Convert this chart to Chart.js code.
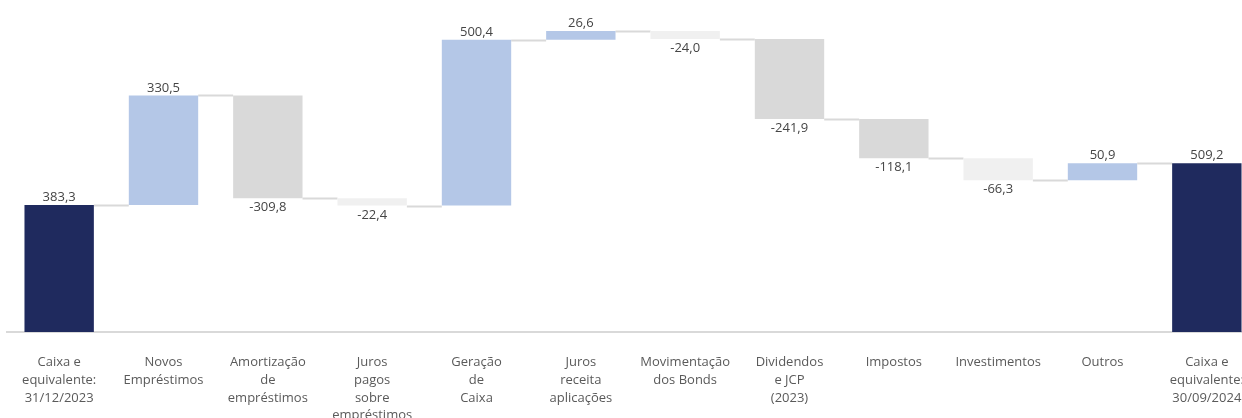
<!DOCTYPE html>
<html>
<head>
<meta charset="utf-8">
<script src="https://cdn.jsdelivr.net/npm/chart.js@4.4.1/dist/chart.umd.min.js"></script>
<style>
  html, body { margin: 0; padding: 0; background: #fff; overflow: hidden; }
  #wrap { width: 1260px; height: 440px; }
</style>
</head>
<body>
<div id="wrap"><canvas id="waterfall" width="1260" height="440"></canvas></div>
<script>
// Categories (multi-line tick labels)
const categories = [
  ["Caixa e", "equivalente:", "31/12/2023"],
  ["Novos", "Empréstimos"],
  ["Amortização", "de", "empréstimos"],
  ["Juros", "pagos", "sobre", "empréstimos"],
  ["Geração", "de", "Caixa"],
  ["Juros", "receita", "aplicações"],
  ["Movimentação", "dos Bonds"],
  ["Dividendos", "e JCP", "(2023)"],
  ["Impostos"],
  ["Investimentos"],
  ["Outros"],
  ["Caixa e", "equivalente:", "30/09/2024"]
];

// Opening balance, movements, closing balance (R$ mm)
const openingBalance = 383.3;
const movements = [330.5, -309.8, -22.4, 500.4, 26.6, -24.0, -241.9, -118.1, -66.3, 50.9];
const closingBalance = 509.2;

// Colours
const TOTAL_COLOR = "#1F2A5E";
const UP_COLOR = "#B4C7E7";
const DOWN_COLOR = "#D9D9D9";
const SMALL_DOWN_COLOR = "#F0F0F0";
const CONNECTOR_COLOR = "#D9D9D9";

// Build floating bars
const ranges = [];
const labelsText = [];
const colors = [];
let running = openingBalance;
ranges.push([0, openingBalance]);
labelsText.push(openingBalance);
colors.push(TOTAL_COLOR);
movements.forEach((m) => {
  const start = running;
  running = Math.round((running + m) * 10) / 10;
  ranges.push([start, running]);
  labelsText.push(m);
  if (m >= 0) colors.push(UP_COLOR);
  else colors.push(m < -100 ? DOWN_COLOR : SMALL_DOWN_COLOR);
});
ranges.push([0, closingBalance]);
labelsText.push(closingBalance);
colors.push(TOTAL_COLOR);

function fmt(v) {
  return v.toFixed(1).replace(".", ",");
}

const connectorPlugin = {
  id: "connectors",
  beforeDatasetsDraw(chart) {
    const meta = chart.getDatasetMeta(0);
    const y = chart.scales.y;
    const ctx = chart.ctx;
    ctx.save();
    ctx.strokeStyle = CONNECTOR_COLOR;
    ctx.lineWidth = 2;
    for (let i = 0; i < meta.data.length - 1; i++) {
      const a = meta.data[i];
      const b = meta.data[i + 1];
      const level = ranges[i][1];
      const py = Math.round(y.getPixelForValue(level)) + 0.5;
      ctx.beginPath();
      ctx.moveTo(a.x + a.width / 2, py);
      ctx.lineTo(b.x - b.width / 2, py);
      ctx.stroke();
    }
    ctx.restore();
  }
};

const valueLabelPlugin = {
  id: "valueLabels",
  afterDatasetsDraw(chart) {
    const meta = chart.getDatasetMeta(0);
    const y = chart.scales.y;
    const ctx = chart.ctx;
    ctx.save();
    ctx.font = "13px 'Open Sans', sans-serif";
    ctx.fillStyle = "#454545";
    ctx.textAlign = "center";
    meta.data.forEach((bar, i) => {
      const v = labelsText[i];
      const [s, e] = ranges[i];
      if (v >= 0) {
        ctx.textBaseline = "bottom";
        ctx.fillText(fmt(v), bar.x, y.getPixelForValue(Math.max(s, e)) - 1);
      } else {
        ctx.textBaseline = "top";
        ctx.fillText(fmt(v), bar.x, y.getPixelForValue(Math.min(s, e)) + 3);
      }
    });
    ctx.restore();
  }
};

new Chart(document.getElementById("waterfall"), {
  type: "bar",
  data: {
    labels: categories,
    datasets: [
      {
        data: ranges,
        backgroundColor: colors,
        borderWidth: 0,
        barPercentage: 0.665,
        categoryPercentage: 1.0
      }
    ]
  },
  options: {
    responsive: false,
    animation: false,
    devicePixelRatio: 1,
    layout: { padding: { left: 7, right: 1, top: 0, bottom: 0 } },
    plugins: {
      legend: { display: false },
      tooltip: { enabled: false }
    },
    scales: {
      y: {
        display: false,
        min: 0,
        max: 1002
      },
      x: {
        grid: { display: false, drawTicks: true, tickLength: 19 },
        border: { display: true, color: "#D9D9D9", width: 2 },
        ticks: {
          autoSkip: false,
          maxRotation: 0,
          minRotation: 0,
          padding: 3,
          color: "#5A5A5A",
          font: { family: "'Open Sans', sans-serif", size: 13, lineHeight: 1.35 }
        },
        afterFit(scale) {
          scale.height = 108;
        }
      }
    }
  },
  plugins: [connectorPlugin, valueLabelPlugin]
});
</script>
</body>
</html>
